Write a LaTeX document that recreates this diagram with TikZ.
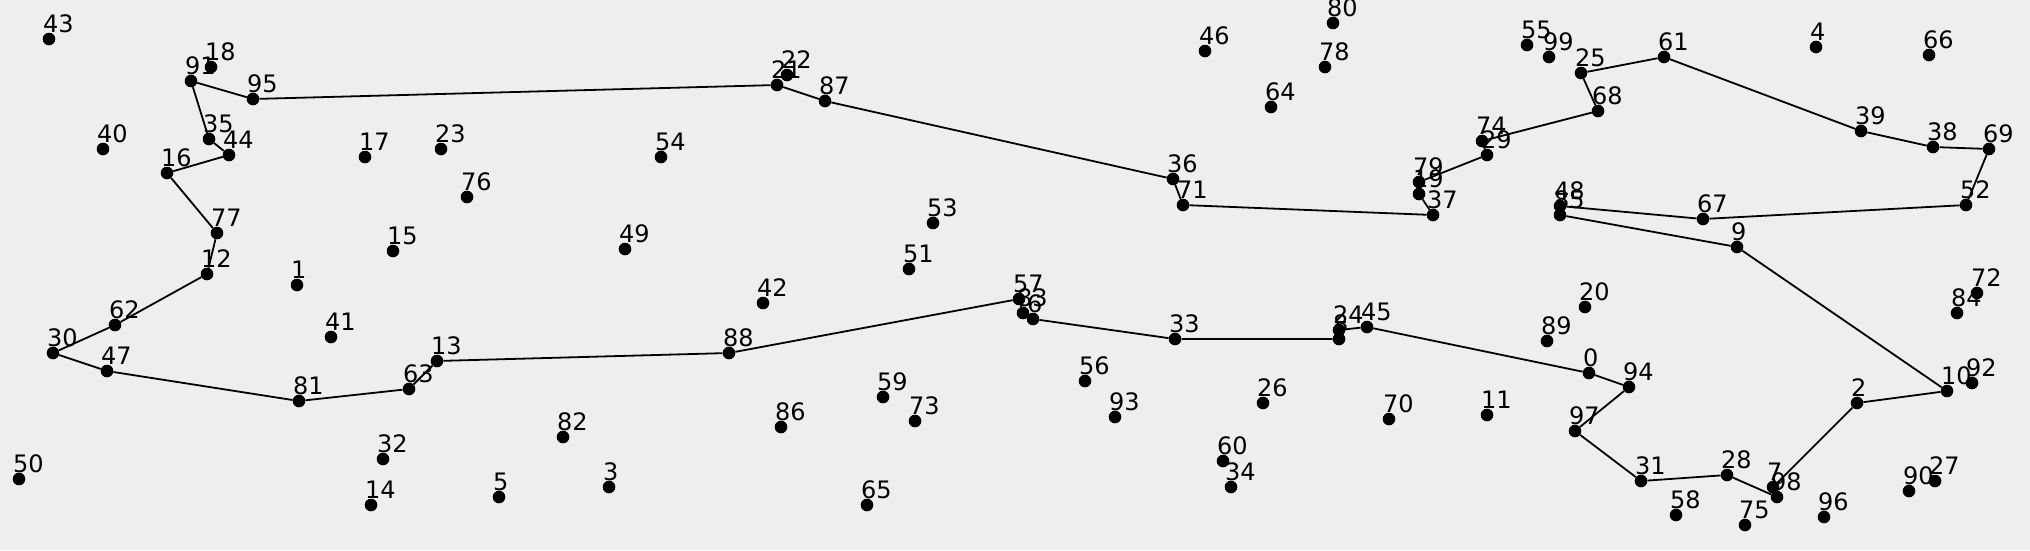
\documentclass[tikz,border=0pt]{standalone}
\usepackage{fontspec}
\setmainfont{DejaVu Sans}
\definecolor{paper}{HTML}{EEEEEE}
\tikzset{
  city/.style={circle,fill=black,inner sep=0pt,minimum size=12.6pt},
  citynum/.style={anchor=base west,inner sep=0pt,font=\fontsize{24}{24}\selectfont},
  tour/.style={line width=1.8pt,black}
}

\begin{document}
\begin{tikzpicture}[x=1pt,y=-1pt]
\fill[paper] (0,0) rectangle (2030,550);
\useasboundingbox (0,0) rectangle (2030,550);
% cities: number/x/y
\foreach \n/\x/\y in {
  0/1589/373, 1/297/285, 2/1857/403, 3/609/487, 4/1816/47, 5/499/497, 6/1033/319,
  7/1773/487, 8/1339/339, 9/1737/247, 10/1947/391, 11/1487/415, 12/207/274,
  13/437/361, 14/371/505, 15/393/251, 16/167/173, 17/365/157, 18/211/67,
  19/1419/194, 20/1585/307, 21/777/85, 22/787/75, 23/441/149, 24/1339/330,
  25/1581/73, 26/1263/403, 27/1935/481, 28/1727/475, 29/1487/155, 30/53/353,
  31/1641/481, 32/383/459, 33/1175/339, 34/1231/487, 35/209/139, 36/1173/179,
  37/1433/215, 38/1933/147, 39/1861/131, 40/103/149, 41/331/337, 42/763/303,
  43/49/39, 44/229/155, 45/1367/327, 46/1205/51, 47/107/371, 48/1560/206,
  49/625/249, 50/19/479, 51/909/269, 52/1966/205, 53/933/223, 54/661/157,
  55/1527/45, 56/1085/381, 57/1019/299, 58/1676/515, 59/883/397, 60/1223/461,
  61/1664/57, 62/115/325, 63/409/389, 64/1271/107, 65/867/505, 66/1929/55,
  67/1703/219, 68/1598/111, 69/1989/149, 70/1389/419, 71/1183/205, 72/1977/293,
  73/915/421, 74/1482/141, 75/1745/525, 76/467/197, 77/217/233, 78/1325/67,
  79/1419/182, 80/1333/23, 81/299/401, 82/563/437, 83/1023/313, 84/1957/313,
  85/1560/215, 86/781/427, 87/825/101, 88/729/353, 89/1547/341, 90/1909/491,
  91/191/81, 92/1972/383, 93/1115/417, 94/1629/387, 95/253/99, 96/1824/517,
  97/1575/431, 98/1777/497, 99/1549/57}
{
  \node[city] (c\n) at (\x,\y) {};
  \node[citynum] (n\n) at ([shift={(-6,-7)}]c\n.center) {\n};
}
\draw[tour] (c91) -- (c95) -- (c21) -- (c87) -- (c36) -- (c71) -- (c37) -- (c19)
  -- (c79) -- (c29) -- (c74) -- (c68) -- (c25) -- (c61) -- (c39) -- (c38) -- (c69)
  -- (c52) -- (c67) -- (c48) -- (c85) -- (c9) -- (c10) -- (c2) -- (c7) -- (c98)
  -- (c28) -- (c31) -- (c97) -- (c94) -- (c0) -- (c45) -- (c24) -- (c8) -- (c33)
  -- (c6) -- (c83) -- (c57) -- (c88) -- (c13) -- (c63) -- (c81) -- (c47) -- (c30)
  -- (c62) -- (c12) -- (c77) -- (c16) -- (c44) -- (c35) -- (c91);
\end{tikzpicture}
\end{document}
